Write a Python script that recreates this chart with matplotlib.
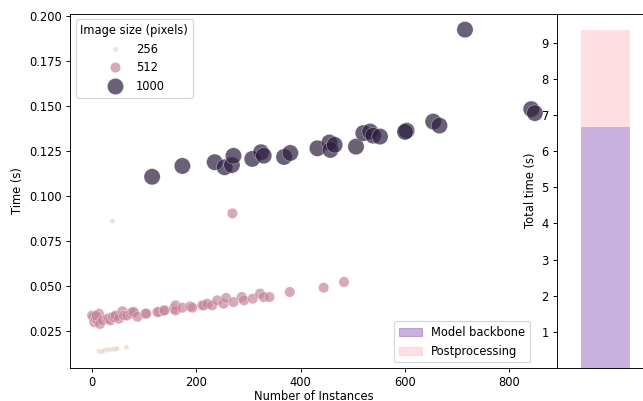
import matplotlib
matplotlib.use("Agg")
import matplotlib.pyplot as plt
import matplotlib.patches as mpatches
import numpy as np
import pandas as pd
import seaborn as sns

# 256 px images
x_256 = [13, 18, 23, 29, 35, 41, 44, 48, 66, 39]
t_256 = [0.0139, 0.0135, 0.0143, 0.0147, 0.0148, 0.0150, 0.0150, 0.0154, 0.0160, 0.0860]

# 512 px images
x_512 = [0, 2, 4, 7, 10, 13, 8, 15, 20, 29, 32, 35, 39, 42, 45, 51, 58, 61, 67, 74,
         77, 80, 87, 102, 104, 125, 127, 137, 139, 157, 160, 160, 173, 188, 192,
         211, 214, 221, 230, 240, 252, 257, 271, 287, 291, 308, 322, 329, 340,
         269, 379, 444, 483]
t_512 = [0.0337, 0.0330, 0.0300, 0.0319, 0.0310, 0.0347, 0.0335, 0.0290, 0.0310,
         0.0319, 0.0319, 0.0310, 0.0328, 0.0328, 0.0337, 0.0319, 0.0360, 0.0337,
         0.0337, 0.0347, 0.0356, 0.0356, 0.0330, 0.0347, 0.0347, 0.0356, 0.0356,
         0.0365, 0.0365, 0.0375, 0.0393, 0.0365, 0.0380, 0.0387, 0.0380, 0.0393,
         0.0393, 0.0402, 0.0393, 0.0421, 0.0402, 0.0434, 0.0411, 0.0439, 0.0421,
         0.0430, 0.0458, 0.0439, 0.0439, 0.0903, 0.0467, 0.0491, 0.0523]

# 1000 px images
x_1000 = [115, 173, 235, 254, 268, 271, 307, 324, 329, 368, 380, 432, 455, 457,
          465, 506, 520, 533, 539, 552, 603, 600, 654, 666, 715, 842, 849]
t_1000 = [0.1106, 0.1166, 0.1187, 0.1159, 0.1171, 0.1222, 0.1205, 0.1242, 0.1223,
          0.1216, 0.1238, 0.1264, 0.1296, 0.1255, 0.1283, 0.1273, 0.1348, 0.1357,
          0.1334, 0.1329, 0.1362, 0.1355, 0.1412, 0.1390, 0.1922, 0.1481, 0.1459]

# stacked total time
backbone_time = 6.68
post_time = 2.66

df = pd.DataFrame({
    "Number of Instances": x_256 + x_512 + x_1000,
    "Time (s)": t_256 + t_512 + t_1000,
    "Image size (pixels)": [256] * len(x_256) + [512] * len(x_512) + [1000] * len(x_1000),
})

fig = plt.figure(figsize=(643 / 83, 401 / 83), dpi=83)
ax1 = fig.add_axes([70 / 643, 1 - 368 / 401, 487 / 643, 354.5 / 401])
ax2 = fig.add_axes([557 / 643, 1 - 368 / 401, 97 / 643, 354.5 / 401])

sns.scatterplot(data=df, x="Number of Instances", y="Time (s)",
                hue="Image size (pixels)", size="Image size (pixels)",
                sizes=(20, 200), alpha=0.7, legend="full", ax=ax1)
ax1.set_yticks(np.arange(0.025, 0.201, 0.025))
ax1.set_xticks([0, 200, 400, 600, 800])
ax1.set_xlabel("Number of Instances", labelpad=1)
leg1 = ax1.legend(loc="upper left", title="Image size (pixels)")

ax2.bar([0], [backbone_time], width=0.5, color="tab:purple", alpha=0.5)
ax2.bar([0], [post_time], width=0.5, bottom=[backbone_time], color="pink", alpha=0.5)
ax2.set_xlim(-0.5, 0.5)
ax2.set_xticks([])
ax2.set_yticks(range(1, 10))
ax2.set_ylabel("Total time (s)")

handles = [mpatches.Patch(color="tab:purple", alpha=0.5, label="Model backbone"),
           mpatches.Patch(color="pink", alpha=0.5, label="Postprocessing")]
ax1.add_artist(leg1)
ax1.legend(handles=handles, loc="lower right", bbox_to_anchor=(0.956, 0))

fig.savefig("out.png", dpi=83)
